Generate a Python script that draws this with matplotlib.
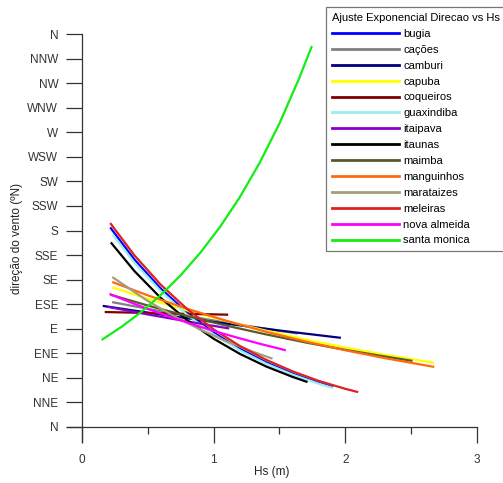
import numpy as np
import matplotlib
matplotlib.use('Agg')
import matplotlib.pyplot as plt

plt.rcParams['font.family'] = ['Liberation Sans', 'DejaVu Sans']

# direction labels, 0 = N at the bottom, 360 = N at the top
dir_labels = ['N', 'NNE', 'NE', 'ENE', 'E', 'ESE', 'SE', 'SSE', 'S',
              'SSW', 'SW', 'WSW', 'W', 'WNW', 'NW', 'NNW', 'N']
dir_values = np.arange(0, 361, 22.5)

# curves: Hs (m) and direction (degrees)
bugia_x = [0.22, 0.4, 0.6, 0.8, 1.0, 1.2, 1.4, 1.6, 1.8, 1.9]
bugia_y = [182.0, 153.3, 126.7, 104.8, 86.6, 71.6, 59.2, 48.9, 40.4, 36.8]

cacoes_x = [0.238, 0.6, 1.0, 1.3, 1.63]
cacoes_y = [114.2, 106.0, 97.6, 91.8, 85.8]

camburi_x = [0.167, 0.6, 1.0, 1.5, 1.959]
camburi_y = [110.8, 103.0, 96.2, 88.4, 81.8]

capuba_x = [0.238, 0.5, 0.8, 1.1, 1.4, 1.7, 2.0, 2.3, 2.668]
capuba_y = [127.6, 117.4, 106.7, 97.0, 88.2, 80.1, 72.8, 66.2, 58.9]

coqueiros_x = [0.182, 0.6, 1.103]
coqueiros_y = [105.3, 104.2, 102.9]

guaxindiba_x = [0.24, 0.4, 0.6, 0.8, 1.0, 1.2, 1.4, 1.6, 1.8, 1.9]
guaxindiba_y = [175.1, 150.3, 124.3, 102.7, 84.9, 70.2, 58.0, 48.0, 39.6, 36.0]

itaipava_x = [0.2, 0.5, 0.8, 1.111]
itaipava_y = [110.0, 103.1, 96.7, 90.4]

itaunas_x = [0.225, 0.4, 0.6, 0.8, 1.0, 1.2, 1.4, 1.6, 1.706]
itaunas_y = [168.3, 142.7, 118.1, 97.8, 80.9, 67.0, 55.4, 45.9, 41.5]

maimba_x = [0.225, 0.5, 0.8, 1.1, 1.4, 1.7, 2.0, 2.25, 2.503]
maimba_y = [120.9, 111.3, 101.6, 92.8, 84.8, 77.4, 70.7, 65.6, 60.7]

manguinhos_x = [0.238, 0.5, 0.8, 1.1, 1.4, 1.7, 2.0, 2.3, 2.668]
manguinhos_y = [132.5, 120.6, 108.3, 97.2, 87.2, 78.3, 70.3, 63.1, 55.2]

marataizes_x = [0.238, 0.5, 0.7, 0.9, 1.1, 1.3, 1.44]
marataizes_y = [136.8, 115.5, 101.5, 89.2, 78.4, 68.9, 62.9]

meleiras_x = [0.22, 0.4, 0.6, 0.8, 1.0, 1.2, 1.4, 1.6, 1.8, 2.0, 2.09]
meleiras_y = [186.0, 157.1, 130.2, 108.0, 89.5, 74.2, 61.5, 51.0, 42.2, 35.0, 32.2]

nova_almeida_x = [0.218, 0.4, 0.55, 0.7, 0.9, 1.05, 1.2, 1.35, 1.541]
nova_almeida_y = [121.5, 112.7, 106.0, 99.7, 91.8, 86.3, 81.2, 76.3, 70.5]

santa_monica_x = [0.157, 0.3, 0.45, 0.6, 0.75, 0.9, 1.05, 1.2, 1.35, 1.5, 1.65, 1.744]
santa_monica_y = [80.3, 91.7, 105.3, 121.0, 139.0, 159.7, 183.4, 210.6, 242.0,
                  277.9, 319.3, 348.1]

series = [
    ('bugia', bugia_x, bugia_y, '#0000ff'),
    ('cações', cacoes_x, cacoes_y, '#808080'),
    ('camburi', camburi_x, camburi_y, '#000080'),
    ('capuba', capuba_x, capuba_y, '#ffff00'),
    ('coqueiros', coqueiros_x, coqueiros_y, '#800000'),
    ('guaxindiba', guaxindiba_x, guaxindiba_y, '#99eeee'),
    ('itaipava', itaipava_x, itaipava_y, '#8800cc'),
    ('itaunas', itaunas_x, itaunas_y, '#000000'),
    ('maimba', maimba_x, maimba_y, '#5a5a28'),
    ('manguinhos', manguinhos_x, manguinhos_y, '#ff6a10'),
    ('marataizes', marataizes_x, marataizes_y, '#a0a078'),
    ('meleiras', meleiras_x, meleiras_y, '#e02020'),
    ('nova almeida', nova_almeida_x, nova_almeida_y, '#ff00ff'),
    ('santa monica', santa_monica_x, santa_monica_y, '#11ee11'),
]

fig = plt.figure(figsize=(5.03, 4.83), dpi=100)
ax = fig.add_axes([0.134, 0.0843, 0.814, 0.8453])

for name, xs, ys, col in series:
    ax.plot(xs, ys, color=col, lw=1.6, label=name, solid_joinstyle='round')

ax.set_xlim(-0.11, 3.0)
ax.set_ylim(-14, 360)

for s in ['top', 'right']:
    ax.spines[s].set_visible(False)
ax.spines['left'].set_position(('data', 0))
ax.spines['bottom'].set_position(('data', 0))
for s in ['left', 'bottom']:
    ax.spines[s].set_color('#333333')
    ax.spines[s].set_linewidth(0.9)

ax.set_xticks([0, 1, 2, 3])
ax.set_xticks([0.5, 1.5, 2.5], minor=True)
ax.set_yticks(dir_values)
ax.set_yticklabels(dir_labels)

ax.tick_params(axis='x', which='major', direction='out', length=11.5,
               width=0.9, pad=8, labelsize=8.5, colors='#333333')
ax.tick_params(axis='x', which='minor', direction='out', length=5,
               width=0.9, colors='#333333')
ax.tick_params(axis='y', which='major', direction='out', length=11.5,
               width=0.9, pad=5.5, labelsize=8.5, colors='#333333')

ax.set_xlabel('Hs (m)', fontsize=8.5, color='#222222', labelpad=0)
ax.set_ylabel('direção do vento (ºN)', fontsize=8.5, color='#222222', labelpad=3)

leg = ax.legend(title='Ajuste Exponencial Direcao vs Hs',
                loc='upper left', bbox_to_anchor=(0.638, 0.996),
                bbox_transform=fig.transFigure,
                fontsize=8, title_fontsize=8, frameon=True, fancybox=False,
                handlelength=6.0, handletextpad=0.4, labelspacing=0.53,
                borderpad=0.5, alignment='left')
leg.get_frame().set_edgecolor('#555555')
leg.get_frame().set_linewidth(0.9)
for line in leg.get_lines():
    line.set_linewidth(2.0)

fig.savefig('out.png', dpi=100)
